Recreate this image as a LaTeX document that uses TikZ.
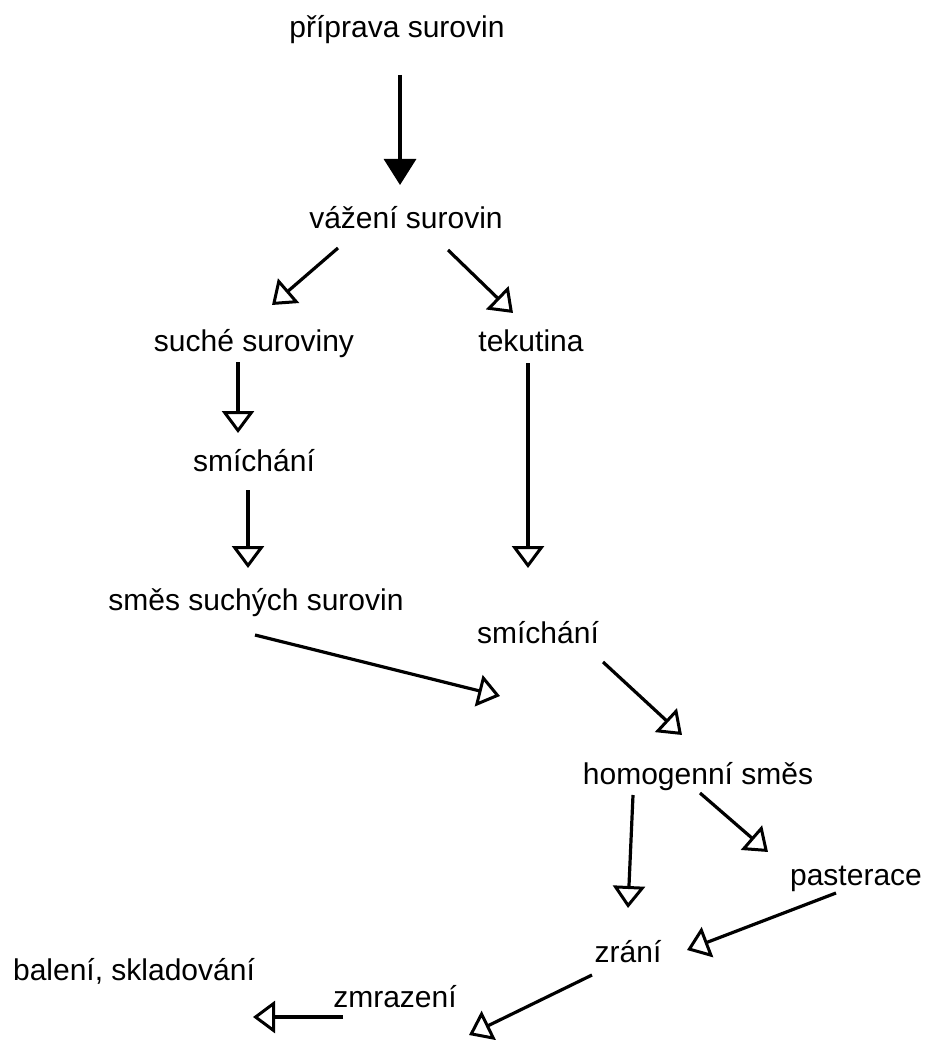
\documentclass[tikz,border=0pt]{standalone}
\usepackage{fontspec}
\setmainfont{Liberation Sans}
\usetikzlibrary{arrows.meta,calc}
\tikzset{
  txt/.style={anchor=base, inner sep=0pt, font=\fontsize{30}{36}\selectfont},
  arr/.style={line width=3.2pt, -{Triangle[open, length=22pt, width=32pt, line width=3pt]}},
  arrf/.style={line width=3.2pt, -{Triangle[length=26pt, width=32pt]}}
}
\begin{document}
\begin{tikzpicture}[x=1pt,y=-1pt]
\useasboundingbox (0,0) rectangle (930,1040);
\node[txt] (prip) at (397,38) {příprava surovin};
\node[txt] (vaz) at (406,229) {vážení surovin};
\node[txt] (such) at (254,351) {suché suroviny};
\node[txt] (tek) at (531,351) {tekutina};
\node[txt] (smichA) at (254,471) {smíchání};
\node[txt] (smes) at (256,610) {směs suchých surovin};
\node[txt] (smichB) at (538,643) {smíchání};
\node[txt] (homog) at (698,784) {homogenní směs};
\node[txt] (past) at (856,885) {pasterace};
\node[txt] (zrani) at (628,962) {zrání};
\node[txt] (baleni) at (134,980) {balení, skladování};
\node[txt] (zmraz) at (395,1007) {zmrazení};
\draw[arrf] ($(prip.base)+(3,37)$) -- ($(vaz.base)+(-6,-44)$);
\draw[arr] ($(vaz.base)+(-68,19)$) -- ($(such.base)+(18,-46)$);
\draw[arr] ($(vaz.base)+(42,21)$) -- ($(tek.base)+(-18,-38)$);
\draw[arr] ($(such.base)+(-16,11)$) -- ($(smichA.base)+(-16,-38)$);
\draw[arr] ($(smichA.base)+(-6,19)$) -- ($(smes.base)+(-8,-42)$);
\draw[arr] ($(tek.base)+(-3,12)$) -- ($(smichB.base)+(-10,-75)$);
\draw[arr] ($(smes.base)+(-1,25)$) -- ($(homog.base)+(-198,-88)$);
\draw[arr] ($(smichB.base)+(65,19)$) -- ($(homog.base)+(-16,-49)$);
\draw[arr] ($(homog.base)+(-65,11)$) -- ($(zrani.base)+(0,-54)$);
\draw[arr] ($(homog.base)+(2,9)$) -- ($(past.base)+(-88,-33)$);
\draw[arr] ($(past.base)+(-20,8)$) -- ($(zrani.base)+(59,-12)$);
\draw[arr] ($(zrani.base)+(-36,13)$) -- ($(zmraz.base)+(74,28)$);
\draw[arr] ($(zmraz.base)+(-52,10)$) -- ($(baleni.base)+(119,37)$);
\end{tikzpicture}
\end{document}
